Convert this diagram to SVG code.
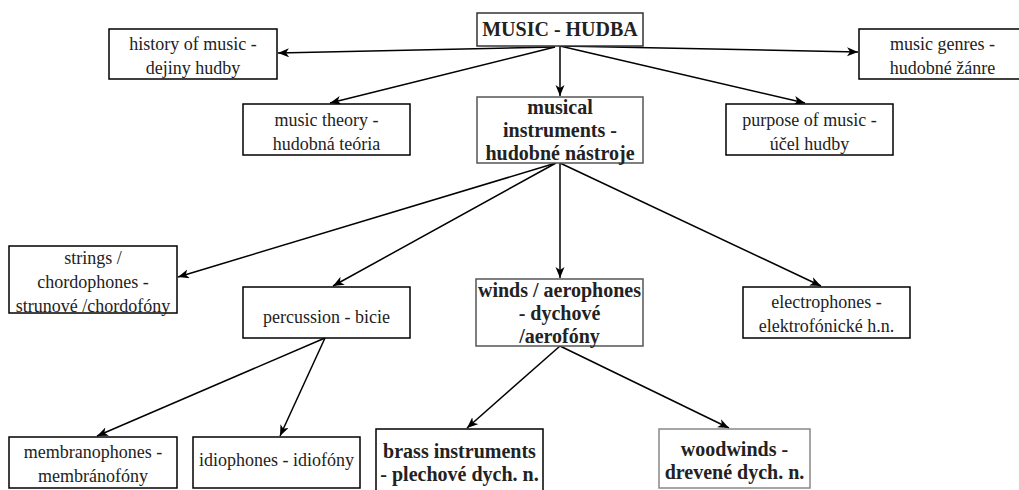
<svg xmlns="http://www.w3.org/2000/svg" width="1019" height="490" viewBox="0 0 1019 490">
<style>
.box{fill:#fff;stroke:#000;stroke-width:1.5}
.gray{stroke:#555}
.lgray{stroke:#888}
.t{font-family:"Liberation Serif","Times New Roman",serif;font-size:18px;fill:#222;text-anchor:middle}
.b{font-family:"Liberation Serif","Times New Roman",serif;font-size:20px;font-weight:bold;fill:#222;text-anchor:middle}
.c{fill:none;stroke:#000;stroke-width:1.5;marker-end:url(#ah)}
</style>
<defs>
<marker id="ah" markerUnits="userSpaceOnUse" markerWidth="12" markerHeight="10" refX="11" refY="4.5" orient="auto">
<path d="M0,0 L11,4.5 L0,9 L3,4.5 z" fill="#000"/>
</marker>
</defs>
<rect width="1019" height="490" fill="#fff"/>
<g id="connectors">
<path class="c" d="M555,47 L278,53"/>
<path class="c" d="M555,47 L330,103"/>
<path class="c" d="M560,46 L560,96"/>
<path class="c" d="M560,46 L858,52"/>
<path class="c" d="M560,46 L805,103"/>
<path class="c" d="M556,163 L178,277"/>
<path class="c" d="M556,163 L333,286"/>
<path class="c" d="M560,163 L560,278"/>
<path class="c" d="M560,163 L821,286"/>
<path class="c" d="M325,338 L97,436"/>
<path class="c" d="M325,338 L280,436"/>
<path class="c" d="M560,346 L467,428"/>
<path class="c" d="M560,346 L729,428"/>
</g>
<g id="music">
<rect class="box" x="477" y="13" width="166" height="33" style="stroke:#333"/>
<text class="b" x="560" y="36">MUSIC - HUDBA</text>
</g>
<g id="history">
<rect class="box" x="109" y="29" width="168" height="50"/>
<text class="t" x="193" y="50">history of music -</text>
<text class="t" x="193" y="74">dejiny hudby</text>
</g>
<g id="genres">
<rect class="box" x="859" y="29" width="167" height="50"/>
<text class="t" x="942.5" y="50">music genres -</text>
<text class="t" x="942.5" y="74">hudobné žánre</text>
</g>
<g id="theory">
<rect class="box" x="243" y="104" width="167" height="51"/>
<text class="t" x="326.5" y="126">music theory -</text>
<text class="t" x="326.5" y="150">hudobná teória</text>
</g>
<g id="instruments">
<rect class="box gray" x="477" y="97" width="166" height="66"/>
<text class="b" x="560" y="114">musical</text>
<text class="b" x="560" y="137">instruments -</text>
<text class="b" x="560" y="160">hudobné nástroje</text>
</g>
<g id="purpose">
<rect class="box" x="726" y="104" width="167" height="51"/>
<text class="t" x="809.5" y="126">purpose of music -</text>
<text class="t" x="809.5" y="150">účel hudby</text>
</g>
<g id="strings">
<rect class="box" x="9" y="246" width="168" height="67"/>
<text class="t" x="93" y="264">strings /</text>
<text class="t" x="93" y="288">chordophones -</text>
<text class="t" x="93" y="312">strunové /chordofóny</text>
</g>
<g id="percussion">
<rect class="box" x="243" y="287" width="167" height="51"/>
<text class="t" x="326.5" y="323">percussion - bicie</text>
</g>
<g id="winds">
<rect class="box gray" x="476" y="279" width="167" height="67"/>
<text class="b" x="559.5" y="297">winds / aerophones</text>
<text class="b" x="559.5" y="320">- dychové</text>
<text class="b" x="559.5" y="343">/aerofóny</text>
</g>
<g id="electrophones">
<rect class="box" x="743" y="287" width="167" height="51"/>
<text class="t" x="826.5" y="308">electrophones -</text>
<text class="t" x="826.5" y="332">elektrofónické h.n.</text>
</g>
<g id="membranophones">
<rect class="box" x="9" y="437" width="168" height="51"/>
<text class="t" x="93" y="458">membranophones -</text>
<text class="t" x="93" y="482">membránofóny</text>
</g>
<g id="idiophones">
<rect class="box" x="193" y="437" width="167" height="51"/>
<text class="t" x="276.5" y="466">idiophones - idiofóny</text>
</g>
<g id="brass">
<rect class="box" x="376" y="429" width="167" height="70"/>
<text class="b" x="459.5" y="458">brass instruments</text>
<text class="b" x="459.5" y="481">- plechové dych. n.</text>
</g>
<g id="woodwinds">
<rect class="box lgray" x="659" y="429" width="151" height="59"/>
<text class="b" x="734.5" y="456">woodwinds -</text>
<text class="b" x="734.5" y="479">drevené dych. n.</text>
</g>
</svg>
